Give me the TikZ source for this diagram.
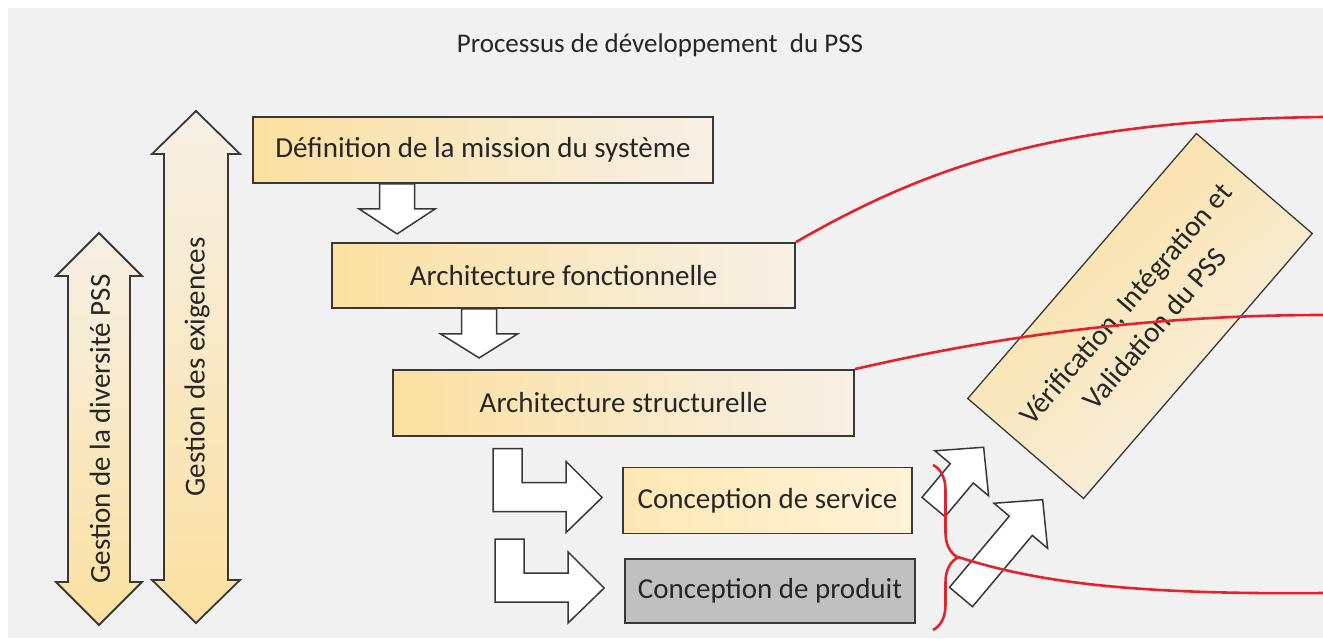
\documentclass[tikz,border=0pt]{standalone}
\usepackage{fontspec}
\setmainfont{Carlito}
\usetikzlibrary{calc,decorations.pathreplacing}
\definecolor{bggray}{HTML}{F1F1F1}
\definecolor{byel}{HTML}{FBE0A0}
\definecolor{blite}{HTML}{F6F0E6}
\definecolor{syel}{HTML}{FDE8B4}
\definecolor{slite}{HTML}{FEF2D8}
\definecolor{pgris}{HTML}{C0C0C0}
\definecolor{bline}{HTML}{383838}
\definecolor{tdark}{HTML}{262626}
\definecolor{rline}{HTML}{E2232E}
\tikzset{
  % yellow step box, shaded from the left
  box/.style     = {rectangle, draw=bline, line width=1.8pt, left color=byel, right color=blite,
                    text=tdark, font=\fontsize{29}{34}\selectfont, inner sep=0pt},
  sbox/.style    = {box, left color=syel, right color=slite},
  pbox/.style    = {rectangle, draw=bline, line width=1.8pt, fill=pgris,
                    text=tdark, font=\fontsize{29}{34}\selectfont, inner sep=0pt},
  fat/.style     = {draw=bline, line width=1.5pt, fill=white, line join=miter},
  lane/.style    = {draw=bline, line width=1.8pt, top color=blite, bottom color=byel},
  lanetxt/.style = {rotate=90, text=tdark, font=\fontsize{29}{34}\selectfont},
  link/.style    = {draw=rline, line width=2.6pt},
  title/.style   = {text=tdark, font=\fontsize{27}{32}\selectfont},
}
% two-headed vertical lane: x, top tip, bottom tip, shaft half, head half, head length
\newcommand{\lanearrow}[6]{%
  \draw[lane] (#1,#2) -- (#1+#5,#2+#6) -- (#1+#4,#2+#6) -- (#1+#4,#3-#6) -- (#1+#5,#3-#6)
    -- (#1,#3) -- (#1-#5,#3-#6) -- (#1-#4,#3-#6) -- (#1-#4,#2+#6) -- (#1-#5,#2+#6) -- cycle;}
% bent arrow ending just left of a box
\newcommand{\bentarrow}[1]{%
  \draw[fat] ($(#1.west)+(-20,-3)$) -- ++(-36,-36) -- ++(0,21) -- ++(-44,0) -- ++(0,-34)
    -- ++(-29,0) -- ++(0,63) -- ++(73,0) -- ++(0,21) -- cycle;}
% tilted arrow: tail x, tail y, length
\newcommand{\tiltarrow}[3]{%
  \begin{scope}[shift={(#1,#2)}, rotate=50]
    \draw[fat] (0,-15) -- (#3-34,-15) -- (#3-34,-35) -- (#3,0) -- (#3-34,35) -- (#3-34,15) -- (0,15) -- cycle;
  \end{scope}}

\begin{document}
\begin{tikzpicture}[x=1pt,y=-1pt]
\useasboundingbox (0,0) rectangle (1323,638);
\fill[white] (0,0) rectangle (1323,638);
\fill[bggray] (8,8) rectangle (1323,638);
\node[title] (title) at (660,45) {Processus de développement\ \ du PSS};
% management lanes
\lanearrow{196}{111}{623}{32}{44}{43}
\node[lanetxt] (exig) at (197,367) {Gestion des exigences};
\lanearrow{99}{233}{625}{31}{43}{43}
\node[lanetxt] (div) at (100,429) {Gestion de la diversité PSS};
% development steps
\node[box, minimum width=460, minimum height=66] (def) at (483,150) {Définition de la mission du système};
\node[box, minimum width=463, minimum height=65] (afonc) at (563.5,275.5) {Architecture fonctionnelle};
\node[box, minimum width=461, minimum height=66] (astr) at (623.5,403) {Architecture structurelle};
\node[sbox, minimum width=289, minimum height=66] (serv) at (767.5,500.5) {Conception de service};
\node[pbox, minimum width=290, minimum height=64] (prod) at (770,591) {Conception de produit};
% hand-over arrows
\draw[fat] ($(def.south west)+(127.5,0)$) -- ++(0,25) -- ++(-20.5,0) -- ++(38,25)
  -- ++(38,-25) -- ++(-20.5,0) -- ++(0,-25) -- cycle;
\draw[fat] ($(afonc.south west)+(130.5,0)$) -- ++(0,25) -- ++(-21,0) -- ++(38.5,24)
  -- ++(38.5,-24) -- ++(-21,0) -- ++(0,-25) -- cycle;
\bentarrow{serv}
\bentarrow{prod}
% towards integration
\tiltarrow{933.5}{507}{78}
\tiltarrow{961}{597}{127}
\node[box, line width=1.3pt, rotate=49.2, minimum width=350, minimum height=153, align=center,
      font=\fontsize{29}{38}\selectfont, shading angle=40.8] (viv) at (1140,316)
      {Vérification, Intégration et\\Validation du PSS};
% red links
\coordinate (r1) at (1323,117);
\coordinate (r2) at (1323,315);
\coordinate (r3) at (1323,593);
\coordinate (btip) at (958,557);
\draw[link] (afonc.north east) .. controls (930,165) and (1060,120) .. (r1);
\draw[link] (astr.north east) .. controls (960,345) and (1120,315) .. (r2);
\draw[link, decorate, decoration={brace, amplitude=25pt, aspect=0.56}] (933,465) -- (933,630);
\draw[link] (btip) .. controls (1030,580) and (1120,595) .. (r3);
\end{tikzpicture}
\end{document}
